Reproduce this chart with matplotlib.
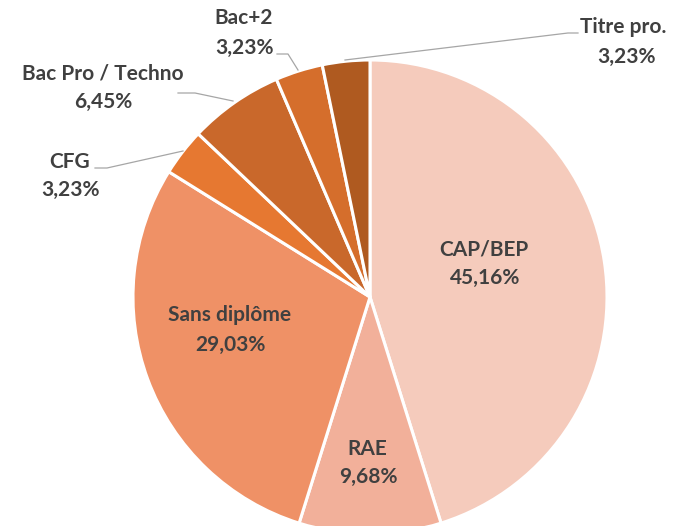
import matplotlib.pyplot as plt

# data
categories = ["CAP/BEP", "RAE", "Sans diplôme", "CFG", "Bac Pro / Techno", "Bac+2", "Titre pro."]
values = [45.16, 9.68, 29.03, 3.23, 6.45, 3.23, 3.23]
value_labels = ["45,16%", "9,68%", "29,03%", "3,23%", "6,45%", "3,23%", "3,23%"]
colors = ["#F5CBBC", "#F2B09A", "#EF9166", "#E67831", "#C9682B", "#D56E2C", "#AF5A20"]

W, H = 677, 526
fig = plt.figure(figsize=(W / 100, H / 100), dpi=100)
ax = fig.add_axes([0, 0, 1, 1])

cx, cy, r = 370, H - 297, 237
ax.pie(values, colors=colors, startangle=90, counterclock=False,
       center=(cx, cy), radius=r, frame=True,
       wedgeprops=dict(edgecolor="white", linewidth=2.2))
ax.set_xlim(0, W)
ax.set_ylim(0, H)
ax.set_aspect("equal")
ax.axis("off")

txt = dict(fontsize=15, fontweight="bold", color="#404040", family="Lato",
           ha="center", va="center")

# label positions in pixel coords (top-left origin)
label_pos = [(484, 250), (367, 449), (230, 315), (70, 162), (103, 73), (244, 18), (623, 27)]
value_pos = [(485, 278), (368, 477), (230, 345), (70, 190), (103, 102), (244, 48), (627, 57)]
for name, val, (lx, ly), (vx, vy) in zip(categories, value_labels, label_pos, value_pos):
    ax.text(lx, H - ly, name, **txt)
    ax.text(vx, H - vy, val, **txt)

# leader lines
leaders = [
    [(95, 168), (107, 168), (183, 151)],
    [(178, 93), (195, 93), (233, 101)],
    [(277, 54), (288, 54), (298, 70)],
    [(578, 33), (568, 33), (345, 60)],
]
for pts in leaders:
    xs = [p[0] for p in pts]
    ys = [H - p[1] for p in pts]
    ax.plot(xs, ys, color="#A6A6A6", linewidth=0.9)

fig.savefig("out.png", dpi=100)
